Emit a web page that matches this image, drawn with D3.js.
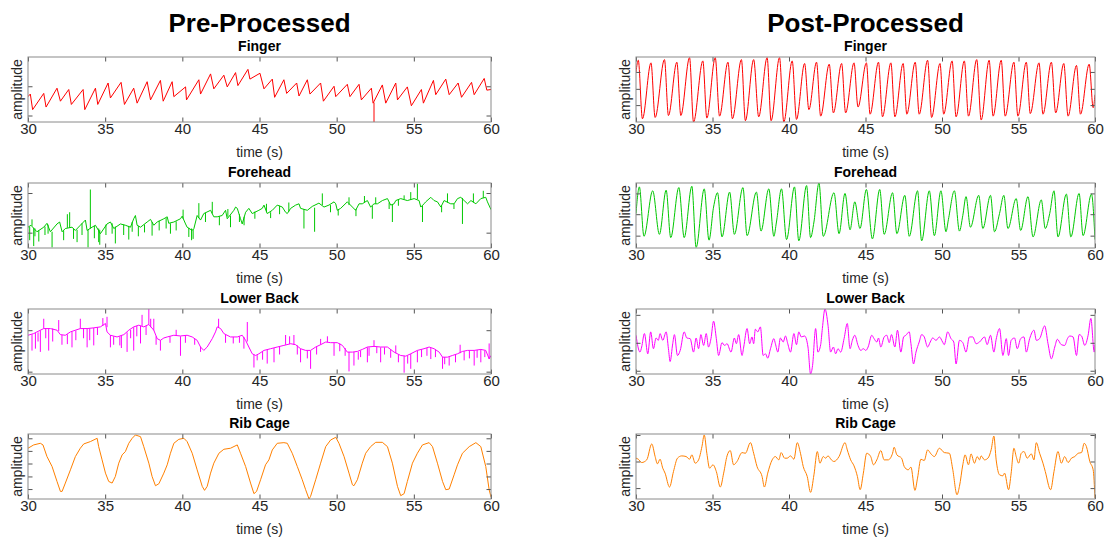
<!DOCTYPE html>
<html>
<head>
<meta charset="utf-8">
<script src="https://cdn.jsdelivr.net/npm/d3@7"></script>
<style>
body { margin: 0; background: #fff; }
text { font-family: "Liberation Sans", Arial, Helvetica, sans-serif; }
</style>
</head>
<body>
<svg id="chart" width="1107" height="540"></svg>
<script>
var timeTicks = [30, 35, 40, 45, 50, 55, 60]
var columnTitles = ['Pre-Processed', 'Post-Processed']
var panelTitles = ['Finger', 'Forehead', 'Lower Back', 'Rib Cage']
var signalColors = ['#ff0000', '#00c800', '#ff00ff', '#ff8000']

// every series is [time (s), amplitude]; amplitude in arbitrary units, 0..100 spans the axes
// spikes are single-sample glitches: [time (s), level before, tip]

var preFinger = [[30.00,39],[30.15,43],[30.30,19],[31.02,44],[31.17,23],[31.88,52],[32.10,32],[32.64,50],[32.81,27],[33.57,50],[33.68,19],[34.37,52],[34.52,27],[35.19,60],[35.34,37],[36.03,61],[36.25,27],[36.85,52],[37.07,29],[37.72,62],[37.94,34],[38.58,64],[38.76,32],[39.34,62],[39.45,39],[40.21,54],[40.27,34],[41.07,65],[41.18,43],[41.83,74],[42.04,51],[42.69,72],[42.91,54],[43.45,76],[43.60,56],[44.25,81],[44.38,66],[45.03,75],[45.29,51],[45.83,66],[45.98,38],[46.58,65],[46.76,44],[47.41,60],[47.56,40],[48.10,65],[48.27,43],[48.96,60],[49.14,32],[49.83,55],[49.94,39],[50.69,58],[50.86,39],[51.45,58],[51.60,34],[52.25,52],[52.36,29],[52.96,57],[53.18,29],[53.83,60],[53.94,34],[54.58,54],[54.84,25],[55.49,50],[55.62,29],[56.27,64],[56.42,42],[57.07,66],[57.29,42],[57.87,60],[58.09,38],[58.74,61],[58.91,42],[59.56,67],[59.73,49],[60.00,50]]
var preFingerSpikes = [[52.42,30,0]]
var preFingerTicks = [10, 55]

var postFinger = [[30.00,77],[30.15,95],[30.42,5],[30.98,91],[31.25,7],[31.86,96],[32.12,10],[32.67,92],[32.93,10],[33.50,99],[33.76,0],[34.37,94],[34.63,6],[35.18,99],[35.46,9],[36.01,92],[36.30,5],[36.89,96],[37.15,2],[37.69,96],[38.02,8],[38.57,99],[38.83,2],[39.38,99],[39.66,0],[40.21,94],[40.49,4],[41.02,90],[41.30,19],[41.80,92],[42.07,9],[42.63,89],[42.90,14],[43.44,90],[43.70,14],[44.25,91],[44.51,23],[45.06,91],[45.30,12],[45.85,92],[46.11,8],[46.66,91],[46.92,8],[47.46,90],[47.70,12],[48.25,92],[48.51,12],[49.06,95],[49.32,7],[49.87,90],[50.11,12],[50.66,94],[50.92,8],[51.46,94],[51.73,9],[52.27,96],[52.56,3],[53.08,95],[53.34,9],[53.87,95],[54.13,9],[54.70,92],[54.96,9],[55.51,92],[55.77,13],[56.34,91],[56.60,12],[57.15,92],[57.43,14],[57.96,90],[58.24,9],[58.79,87],[59.05,12],[59.62,89],[59.88,22],[60.00,42]]
var postFingerTicks = [26, 51, 77]

var preForehead = [[30.00,32],[30.19,35],[30.58,25],[31.02,32],[31.23,38],[31.45,25],[31.88,37],[32.05,40],[32.21,25],[32.42,30],[32.85,32],[33.07,27],[33.39,35],[33.72,43],[33.83,27],[34.15,32],[34.37,35],[34.69,22],[35.12,37],[35.34,40],[35.56,30],[35.99,37],[36.31,35],[36.64,32],[36.85,45],[36.96,50],[37.07,35],[37.29,32],[37.72,40],[37.94,44],[38.15,35],[38.37,40],[38.80,45],[39.02,48],[39.12,38],[39.45,40],[39.88,45],[39.99,49],[40.21,37],[40.31,32],[40.64,27],[40.75,30],[40.96,50],[41.18,43],[41.39,53],[41.83,58],[42.04,48],[42.26,48],[42.58,50],[42.80,58],[42.91,45],[43.34,58],[43.45,63],[43.56,61],[43.77,45],[43.88,37],[44.10,55],[44.31,61],[44.53,53],[44.96,58],[45.18,61],[45.29,66],[45.50,53],[45.83,58],[46.15,66],[46.48,63],[46.69,55],[46.80,53],[47.02,61],[47.34,66],[47.56,68],[47.66,61],[48.10,58],[48.42,64],[48.85,69],[49.18,63],[49.50,66],[49.83,71],[49.94,68],[50.04,58],[50.26,61],[50.69,71],[51.02,63],[51.23,58],[51.45,68],[51.66,68],[51.99,73],[52.20,63],[52.42,68],[52.64,68],[52.96,73],[53.29,76],[53.50,66],[53.72,68],[53.83,73],[54.15,76],[54.58,73],[55.02,76],[55.34,73],[55.45,63],[55.66,68],[55.77,71],[56.10,78],[56.31,73],[56.53,71],[56.75,63],[56.96,73],[57.39,68],[57.61,68],[57.83,76],[58.04,78],[58.26,73],[58.48,68],[58.70,73],[59.02,68],[59.34,76],[59.66,78],[59.77,71],[60.00,59]]
var preForeheadSpikes = [[30.11,33,12],[30.26,34,44],[30.37,31,3],[30.45,30,18],[30.70,27,10],[31.10,33,20],[31.30,36,22],[31.56,25,1],[32.31,27,12],[32.55,31,52],[32.70,31,55],[32.95,30,14],[33.18,28,9],[33.50,38,20],[33.89,28,1],[34.04,30,90],[34.30,34,15],[34.58,30,9],[34.65,28,5],[35.05,36,20],[35.45,38,22],[35.66,33,7],[36.20,36,20],[36.53,34,13],[36.75,40,25],[37.15,34,18],[37.55,36,24],[38.04,40,19],[38.50,42,27],[38.95,46,30],[39.23,38,22],[39.60,41,27],[40.05,45,59],[40.42,31,17],[40.60,30,12],[40.70,29,14],[41.07,46,69],[41.50,54,40],[41.94,53,71],[42.40,49,35],[42.95,48,60],[43.12,50,32],[43.70,52,40],[44.00,48,35],[44.70,56,45],[45.45,55,68],[45.72,55,46],[46.30,65,52],[46.90,56,70],[47.88,60,30],[48.57,62,25],[49.07,66,84],[49.60,66,55],[50.10,60,50],[50.80,66,78],[51.25,60,49],[51.80,70,80],[52.31,65,45],[52.53,68,78],[53.40,70,60],[53.61,67,40],[54.00,75,65],[54.37,75,81],[54.80,74,86],[55.23,75,99],[55.56,65,40],[56.80,65,55],[57.18,70,84],[57.60,68,60],[58.15,77,37],[58.86,70,84],[59.50,77,88]]
var preForeheadTicks = [23.6, 84.6]

var postForehead = [[30.00,53],[30.22,94],[30.52,18],[31.09,88],[31.53,21],[31.97,89],[32.27,16],[32.80,93],[33.15,16],[33.65,95],[33.93,1],[34.46,91],[34.77,12],[35.07,63],[35.33,85],[35.62,17],[36.12,86],[36.43,21],[36.99,93],[37.26,19],[37.87,86],[38.17,26],[38.68,91],[39.01,18],[39.18,40],[39.51,91],[39.84,13],[40.36,94],[40.64,11],[41.15,96],[41.41,16],[41.63,40],[41.96,100],[42.24,18],[42.94,85],[43.27,22],[43.66,84],[43.99,28],[44.30,71],[44.64,30],[45.06,90],[45.45,14],[45.93,90],[46.22,21],[46.77,85],[47.05,22],[47.57,81],[47.86,18],[48.40,88],[48.67,11],[49.17,88],[49.50,19],[49.93,88],[50.26,25],[50.42,44],[50.81,88],[51.14,26],[51.36,50],[51.57,79],[51.86,32],[52.40,81],[52.67,30],[53.17,81],[53.43,25],[53.76,53],[54.04,81],[54.31,30],[54.85,76],[55.14,27],[55.62,79],[55.95,17],[56.49,74],[56.75,30],[57.04,53],[57.32,88],[57.58,17],[58.13,83],[58.42,17],[58.96,84],[59.22,19],[59.77,83],[60.00,13]]
var postForeheadTicks = [19, 52, 84]

var preLowerBack = [[30.00,59.6],[30.37,62.2],[30.58,64.8],[31.02,69.9],[31.45,69.9],[31.88,67.4],[32.10,60.6],[32.42,59.6],[32.75,64.8],[33.07,67.4],[33.39,69.9],[33.83,69.9],[34.26,71.0],[34.69,72.5],[35.02,77.7],[35.12,64.8],[35.34,59.6],[35.77,57.0],[36.21,60.6],[36.53,67.4],[36.85,72.5],[37.18,75.1],[37.50,72.5],[37.83,76.2],[38.15,67.4],[38.37,54.4],[38.58,51.8],[38.80,55.4],[39.02,57.0],[39.45,59.6],[39.88,58.5],[40.31,59.6],[40.64,57.0],[40.96,51.8],[41.18,41.5],[41.39,36.3],[41.61,41.5],[41.94,54.4],[42.15,64.8],[42.26,72.5],[42.48,69.9],[42.69,62.2],[43.12,57.0],[43.56,57.0],[43.88,59.6],[44.10,51.8],[44.31,41.5],[44.53,31.1],[44.75,28.5],[44.96,31.1],[45.29,36.3],[45.72,38.9],[46.15,41.5],[46.58,44.0],[47.02,46.6],[47.34,45.1],[47.66,38.9],[47.99,36.3],[48.31,36.3],[48.64,41.5],[48.96,45.1],[49.29,49.2],[49.61,48.2],[50.04,48.2],[50.37,44.0],[50.69,33.7],[51.02,33.7],[51.34,34.7],[51.66,37.8],[51.99,41.5],[52.42,42.5],[52.85,41.5],[53.29,41.5],[53.72,33.7],[54.15,28.5],[54.48,27.5],[54.80,31.1],[55.23,36.3],[55.66,38.9],[55.99,41.5],[56.31,38.9],[56.64,33.7],[56.86,25.9],[57.18,25.9],[57.50,28.5],[57.83,31.1],[58.15,34.7],[58.48,36.3],[58.91,36.3],[59.34,37.8],[59.66,36.3],[59.88,23.3],[60.00,28.5]]
var preLowerBackSpikes = [[30.26,61,36],[30.48,63,39],[30.65,64,50],[30.80,67,34],[31.02,70,85],[31.15,70,55],[31.34,70,36],[31.60,70,50],[31.99,66,83],[32.20,60,45],[32.55,61,46],[32.85,65,41],[33.10,67,52],[33.39,70,85],[33.60,70,55],[33.83,70,41],[34.00,70,52],[34.26,71,44],[34.50,72,60],[34.85,74,86],[35.12,72,88],[35.34,60,41],[35.55,58,45],[35.95,58,44],[36.05,59,40],[36.42,64,34],[36.65,68,55],[36.85,72,36],[37.05,74,58],[37.29,74,47],[37.39,74,91],[37.65,74,60],[37.83,76,100],[37.95,72,85],[38.15,67,85],[38.30,58,45],[38.58,52,36],[39.20,58,48],[39.60,59,68],[39.88,58,28],[40.20,59,48],[40.80,54,45],[41.18,42,34],[42.35,71,85],[42.80,60,48],[43.30,57,47],[43.70,58,48],[43.99,57,39],[44.21,50,80],[44.64,30,10],[44.85,29,21],[45.20,35,22],[45.50,37,16],[45.94,40,18],[46.30,42,30],[46.69,45,60],[46.95,46,58],[47.23,45,60],[47.45,44,30],[47.66,39,18],[48.10,36,24],[48.31,36,8],[48.70,42,30],[48.96,45,54],[49.40,49,58],[49.83,48,28],[50.20,47,35],[50.55,40,28],[50.80,34,4],[51.12,34,13],[51.40,34,22],[51.55,36,26],[51.99,41,18],[52.10,41,28],[52.42,42,52],[52.60,42,32],[52.85,41,18],[53.10,41,30],[53.50,38,25],[53.83,32,44],[54.00,30,18],[54.37,28,2],[54.60,28,16],[54.80,31,8],[55.23,36,18],[55.50,38,26],[55.85,40,28],[56.10,40,23],[56.40,38,26],[56.86,26,8],[57.00,26,15],[57.29,26,13],[57.70,30,18],[58.00,32,45],[58.26,35,21],[58.60,36,24],[58.91,36,13],[59.10,37,25],[59.34,38,18],[59.60,36,26],[59.88,23,47]]
var preLowerBackTicks = [3.6, 67.4]

var postLowerBack = [[30.00,59.6],[30.26,33.7],[30.37,41.5],[30.55,62.2],[30.77,31.1],[30.96,64.8],[31.14,38.9],[31.31,55.4],[31.46,51.8],[31.57,62.2],[31.75,51.8],[31.97,64.8],[32.12,38.9],[32.23,19.2],[32.40,46.6],[32.51,60.6],[32.71,28.5],[32.89,36.3],[33.15,64.8],[33.32,55.4],[33.54,54.4],[33.76,33.7],[33.93,55.4],[34.09,38.9],[34.24,60.6],[34.42,44.0],[34.59,62.2],[34.74,41.5],[34.90,54.4],[35.07,81.3],[35.25,54.4],[35.40,28.5],[35.62,48.2],[35.79,44.0],[35.95,46.6],[36.21,33.7],[36.43,55.4],[36.56,46.6],[36.71,60.6],[36.93,28.5],[37.04,41.5],[37.26,69.9],[37.43,46.6],[37.58,57.0],[37.69,46.6],[37.80,68.9],[37.96,64.8],[38.13,72.5],[38.31,28.5],[38.46,31.1],[38.61,24.4],[38.79,38.9],[39.01,54.4],[39.11,46.6],[39.27,33.7],[39.44,55.4],[39.62,49.2],[39.77,58.5],[39.92,46.6],[40.10,33.7],[40.32,62.2],[40.49,45.1],[40.64,64.8],[40.80,57.0],[41.02,58.5],[41.24,41.5],[41.41,0],[41.54,13.0],[41.74,69.9],[41.89,33.7],[42.07,45.1],[42.18,69.9],[42.35,100],[42.55,75.1],[42.72,33.7],[42.90,41.5],[43.05,31.1],[43.20,38.9],[43.38,33.7],[43.60,54.4],[43.81,77.7],[43.99,38.9],[44.14,51.8],[44.30,59.6],[44.51,44.0],[44.69,36.3],[44.86,38.9],[45.02,36.3],[45.17,41.5],[45.41,59.6],[45.56,54.4],[45.74,49.2],[45.85,55.4],[46.00,41.5],[46.22,57.0],[46.39,59.6],[46.55,48.2],[46.70,60.6],[46.92,41.5],[47.09,67.4],[47.31,33.7],[47.49,57.0],[47.64,59.6],[47.86,64.8],[47.97,46.6],[48.14,15.5],[48.30,33.7],[48.51,49.2],[48.67,60.6],[48.84,57.0],[49.06,41.5],[49.23,49.2],[49.39,55.4],[49.61,51.8],[49.83,57.0],[50.04,49.2],[50.15,45.1],[50.37,64.8],[50.59,54.4],[50.77,49.2],[50.92,15.5],[51.14,51.8],[51.36,48.2],[51.57,33.7],[51.79,57.0],[52.01,57.0],[52.23,46.6],[52.45,49.2],[52.78,57.0],[52.95,45.1],[53.17,59.6],[53.39,33.7],[53.54,53.4],[53.76,69.9],[53.98,28.5],[54.20,54.4],[54.35,28.5],[54.52,51.8],[54.74,55.4],[54.92,38.9],[55.14,54.4],[55.36,57.0],[55.51,33.7],[55.73,54.4],[56.01,67.4],[56.17,51.8],[56.38,54.4],[56.71,74.1],[56.93,46.6],[57.15,23.3],[57.37,41.5],[57.54,53.4],[57.80,45.1],[58.02,44.0],[58.20,54.4],[58.35,58.5],[58.57,57.0],[58.79,28.5],[58.96,60.6],[59.12,58.5],[59.33,44.0],[59.55,59.6],[59.73,85.5],[59.95,33.7],[60.00,45.1]]
var postLowerBackTicks = [5, 48, 91]

var preRibCage = [[30.00,78.1],[30.37,83.2],[30.80,85.7],[30.97,83.2],[31.23,65.3],[31.56,50.0],[31.88,27.0],[32.10,11.7],[32.21,11.7],[32.42,24.5],[32.75,44.9],[33.07,65.3],[33.39,78.1],[33.61,84.7],[34.04,88.3],[34.48,93.4],[34.58,80.6],[34.80,60.2],[35.02,39.8],[35.23,27.0],[35.45,24.5],[35.66,34.7],[35.88,55.1],[36.10,67.9],[36.31,73.0],[36.53,85.7],[36.75,93.4],[36.96,98.5],[37.29,95.9],[37.50,80.6],[37.83,55.1],[38.04,34.7],[38.26,20.4],[38.48,23.5],[38.80,39.8],[39.02,52.6],[39.23,70.4],[39.45,85.7],[39.77,91.8],[40.10,93.4],[40.31,88.3],[40.64,70.4],[40.96,44.9],[41.29,19.4],[41.44,13.3],[41.61,19.4],[41.83,39.8],[42.04,55.1],[42.37,70.4],[42.69,76.5],[43.12,78.1],[43.56,83.2],[43.77,70.4],[44.10,50.0],[44.42,24.5],[44.64,8.2],[44.81,11.7],[45.07,29.6],[45.39,52.6],[45.61,60.2],[45.83,75.5],[46.15,85.7],[46.58,86.7],[46.80,85.7],[47.12,70.4],[47.45,50.0],[47.77,29.6],[47.99,14.3],[48.21,0],[48.31,4.1],[48.64,29.6],[48.96,55.1],[49.29,80.6],[49.61,90.8],[49.94,94.9],[50.15,85.7],[50.48,65.3],[50.80,39.8],[51.02,21.9],[51.12,20.4],[51.34,29.6],[51.66,55.1],[51.88,70.4],[52.20,80.6],[52.53,87.2],[52.96,87.2],[53.29,80.6],[53.61,55.1],[53.94,19.4],[54.15,5.1],[54.37,8.2],[54.58,27.0],[54.91,55.1],[55.23,70.4],[55.56,83.2],[55.99,86.7],[56.21,80.6],[56.53,55.1],[56.86,27.0],[57.07,14.3],[57.29,15.3],[57.61,37.2],[57.83,52.6],[58.15,70.4],[58.59,80.6],[59.02,86.7],[59.34,80.6],[59.66,50.0],[59.88,14.3],[60.00,3.1]]
var preRibCageTicks = [15.3, 34.7, 54.6, 74, 93.4]

var postRibCage = [[30.00,62.8],[30.15,61.2],[30.37,56.1],[30.70,60.2],[31.03,84.7],[31.25,65.3],[31.40,54.1],[31.57,61.2],[31.75,47.4],[31.90,39.8],[32.19,18.4],[32.45,42.3],[32.71,62.8],[32.99,66.3],[33.28,65.3],[33.50,61.2],[33.65,67.9],[33.87,55.1],[34.09,60.2],[34.31,80.6],[34.46,98.5],[34.63,70.4],[34.81,47.4],[35.03,52.6],[35.25,42.3],[35.51,18.4],[35.73,39.8],[35.95,66.3],[36.16,74.5],[36.38,52.6],[36.60,57.7],[36.93,71.4],[37.15,70.4],[37.48,86.7],[37.69,70.4],[37.91,50.0],[38.24,34.7],[38.39,18.4],[38.61,39.8],[38.90,60.2],[39.11,65.3],[39.33,60.2],[39.49,71.4],[39.71,62.8],[39.88,62.8],[40.10,66.3],[40.32,61.2],[40.54,86.7],[40.75,70.4],[40.93,50.0],[41.19,34.7],[41.41,10.2],[41.63,37.2],[41.85,73.0],[42.02,55.1],[42.24,65.3],[42.39,62.8],[42.55,66.3],[42.77,60.2],[42.94,57.7],[43.27,65.3],[43.66,86.7],[43.81,75.5],[44.03,60.2],[44.25,51.0],[44.47,34.7],[44.65,14.3],[44.86,39.8],[45.08,70.4],[45.34,65.3],[45.52,52.6],[45.74,60.2],[46.00,74.5],[46.22,60.2],[46.48,60.2],[46.77,70.4],[46.87,79.6],[47.05,67.9],[47.36,62.8],[47.53,50.0],[47.79,44.9],[47.97,49.0],[48.23,13.3],[48.40,32.1],[48.62,61.2],[48.84,59.2],[49.06,75.5],[49.28,69.4],[49.50,65.3],[49.83,78.1],[50.15,71.4],[50.48,70.4],[50.70,45.9],[50.98,6.6],[51.14,19.4],[51.36,52.6],[51.51,67.9],[51.73,52.6],[51.90,69.4],[52.12,55.1],[52.30,65.3],[52.45,60.2],[52.56,66.3],[52.78,60.2],[53.00,62.8],[53.22,76.5],[53.39,96.9],[53.54,60.2],[53.76,37.2],[53.98,35.7],[54.09,39.8],[54.35,14.3],[54.52,39.8],[54.70,78.1],[54.85,65.3],[55.01,55.1],[55.18,70.4],[55.36,73.0],[55.57,62.8],[55.84,69.4],[56.01,60.2],[56.16,86.7],[56.38,70.4],[56.60,55.1],[56.75,42.3],[57.10,14.3],[57.32,42.3],[57.58,73.0],[57.80,55.1],[58.02,65.3],[58.24,56.1],[58.46,62.8],[58.68,65.3],[58.90,70.4],[59.12,71.4],[59.29,85.7],[59.44,80.6],[59.66,57.7],[59.88,44.9],[60.00,1.5]]
var postRibCageTicks = [16.8, 57.7, 98.5]

var svg = d3.select('#chart')

var columns = [{left: 28, right: 491}, {left: 636, right: 1095}]
var rowTop = [57, 183, 309, 434]
var rowHeight = 65
var tickLen = 4.5
var axisColor = '#8a8a8a'
var labelColor = '#262626'

var panels = [
  {col: 0, row: 0, data: preFinger, spikes: preFingerSpikes, yTicks: preFingerTicks, curve: d3.curveLinear},
  {col: 1, row: 0, data: postFinger, spikes: [], yTicks: postFingerTicks, curve: d3.curveMonotoneX},
  {col: 0, row: 1, data: preForehead, spikes: preForeheadSpikes, yTicks: preForeheadTicks, curve: d3.curveLinear},
  {col: 1, row: 1, data: postForehead, spikes: [], yTicks: postForeheadTicks, curve: d3.curveMonotoneX},
  {col: 0, row: 2, data: preLowerBack, spikes: preLowerBackSpikes, yTicks: preLowerBackTicks, curve: d3.curveLinear},
  {col: 1, row: 2, data: postLowerBack, spikes: [], yTicks: postLowerBackTicks, curve: d3.curveMonotoneX},
  {col: 0, row: 3, data: preRibCage, spikes: [], yTicks: preRibCageTicks, curve: d3.curveLinear},
  {col: 1, row: 3, data: postRibCage, spikes: [], yTicks: postRibCageTicks, curve: d3.curveMonotoneX},
]

columnTitles.forEach((title, i) => {
  svg.append('text')
    .attr('x', (columns[i].left + columns[i].right)/2)
    .attr('y', 31.5)
    .attr('text-anchor', 'middle')
    .attr('font-size', 26)
    .attr('font-weight', 'bold')
    .attr('fill', '#000')
    .text(title)
})

panels.forEach((p, i) => {
  var c = columns[p.col]
  var top = rowTop[p.row], bottom = top + rowHeight
  var color = signalColors[p.row]

  var x = d3.scaleLinear().domain([30, 60]).range([c.left, c.right])
  var y = d3.scaleLinear().domain([0, 100]).range([bottom, top])

  var g = svg.append('g')

  g.append('clipPath').attr('id', 'clip' + i)
    .append('rect')
    .attr('x', c.left).attr('y', top)
    .attr('width', c.right - c.left).attr('height', rowHeight)

  var plot = g.append('g').attr('clip-path', 'url(#clip' + i + ')')

  plot.append('path')
    .datum(p.data)
    .attr('fill', 'none')
    .attr('stroke', color)
    .attr('stroke-width', 1)
    .attr('stroke-linejoin', 'round')
    .attr('d', d3.line().x(d => x(d[0])).y(d => y(d[1])).curve(p.curve))

  plot.selectAll('line.spike')
    .data(p.spikes)
    .join('line')
    .attr('class', 'spike')
    .attr('x1', d => x(d[0])).attr('x2', d => x(d[0]))
    .attr('y1', d => y(d[1])).attr('y2', d => y(d[2]))
    .attr('stroke', color)
    .attr('stroke-width', 1)

  // ticks on all four sides, pointing inward, like a boxed matlab axes
  var bottomAxis = g.append('g')
    .attr('transform', 'translate(0,' + bottom + ')')
    .call(d3.axisBottom(x).tickValues(timeTicks).tickSize(-tickLen).tickPadding(1.5).tickFormat(d3.format('d')))
  var topAxis = g.append('g')
    .attr('transform', 'translate(0,' + top + ')')
    .call(d3.axisTop(x).tickValues(timeTicks).tickSize(-tickLen).tickFormat(''))
  var leftAxis = g.append('g')
    .attr('transform', 'translate(' + c.left + ',0)')
    .call(d3.axisLeft(y).tickValues(p.yTicks).tickSize(-tickLen).tickFormat(''))
  var rightAxis = g.append('g')
    .attr('transform', 'translate(' + c.right + ',0)')
    .call(d3.axisRight(y).tickValues(p.yTicks).tickSize(-tickLen).tickFormat(''))

  ;[bottomAxis, topAxis, leftAxis, rightAxis].forEach(a => {
    a.select('.domain').remove()
    a.selectAll('.tick line').attr('stroke', '#555').attr('stroke-width', 1)
  })
  bottomAxis.selectAll('.tick text')
    .attr('font-size', 15)
    .attr('fill', labelColor)

  g.append('rect')
    .attr('x', c.left).attr('y', top)
    .attr('width', c.right - c.left).attr('height', rowHeight)
    .attr('fill', 'none')
    .attr('stroke', axisColor)
    .attr('stroke-width', 1)

  g.append('text')
    .attr('x', (c.left + c.right)/2)
    .attr('y', top - 6)
    .attr('text-anchor', 'middle')
    .attr('font-size', 14)
    .attr('font-weight', 'bold')
    .attr('fill', '#000')
    .text(panelTitles[p.row])

  g.append('text')
    .attr('x', (c.left + c.right)/2)
    .attr('y', bottom + 35)
    .attr('text-anchor', 'middle')
    .attr('font-size', 14)
    .attr('fill', labelColor)
    .text('time (s)')

  g.append('text')
    .attr('transform', 'translate(' + (c.left - 11) + ',' + (top + bottom)/2 + ') rotate(-90)')
    .attr('text-anchor', 'middle')
    .attr('dy', '0.35em')
    .attr('font-size', 14)
    .attr('fill', labelColor)
    .text('amplitude')
})
</script>
</body>
</html>
